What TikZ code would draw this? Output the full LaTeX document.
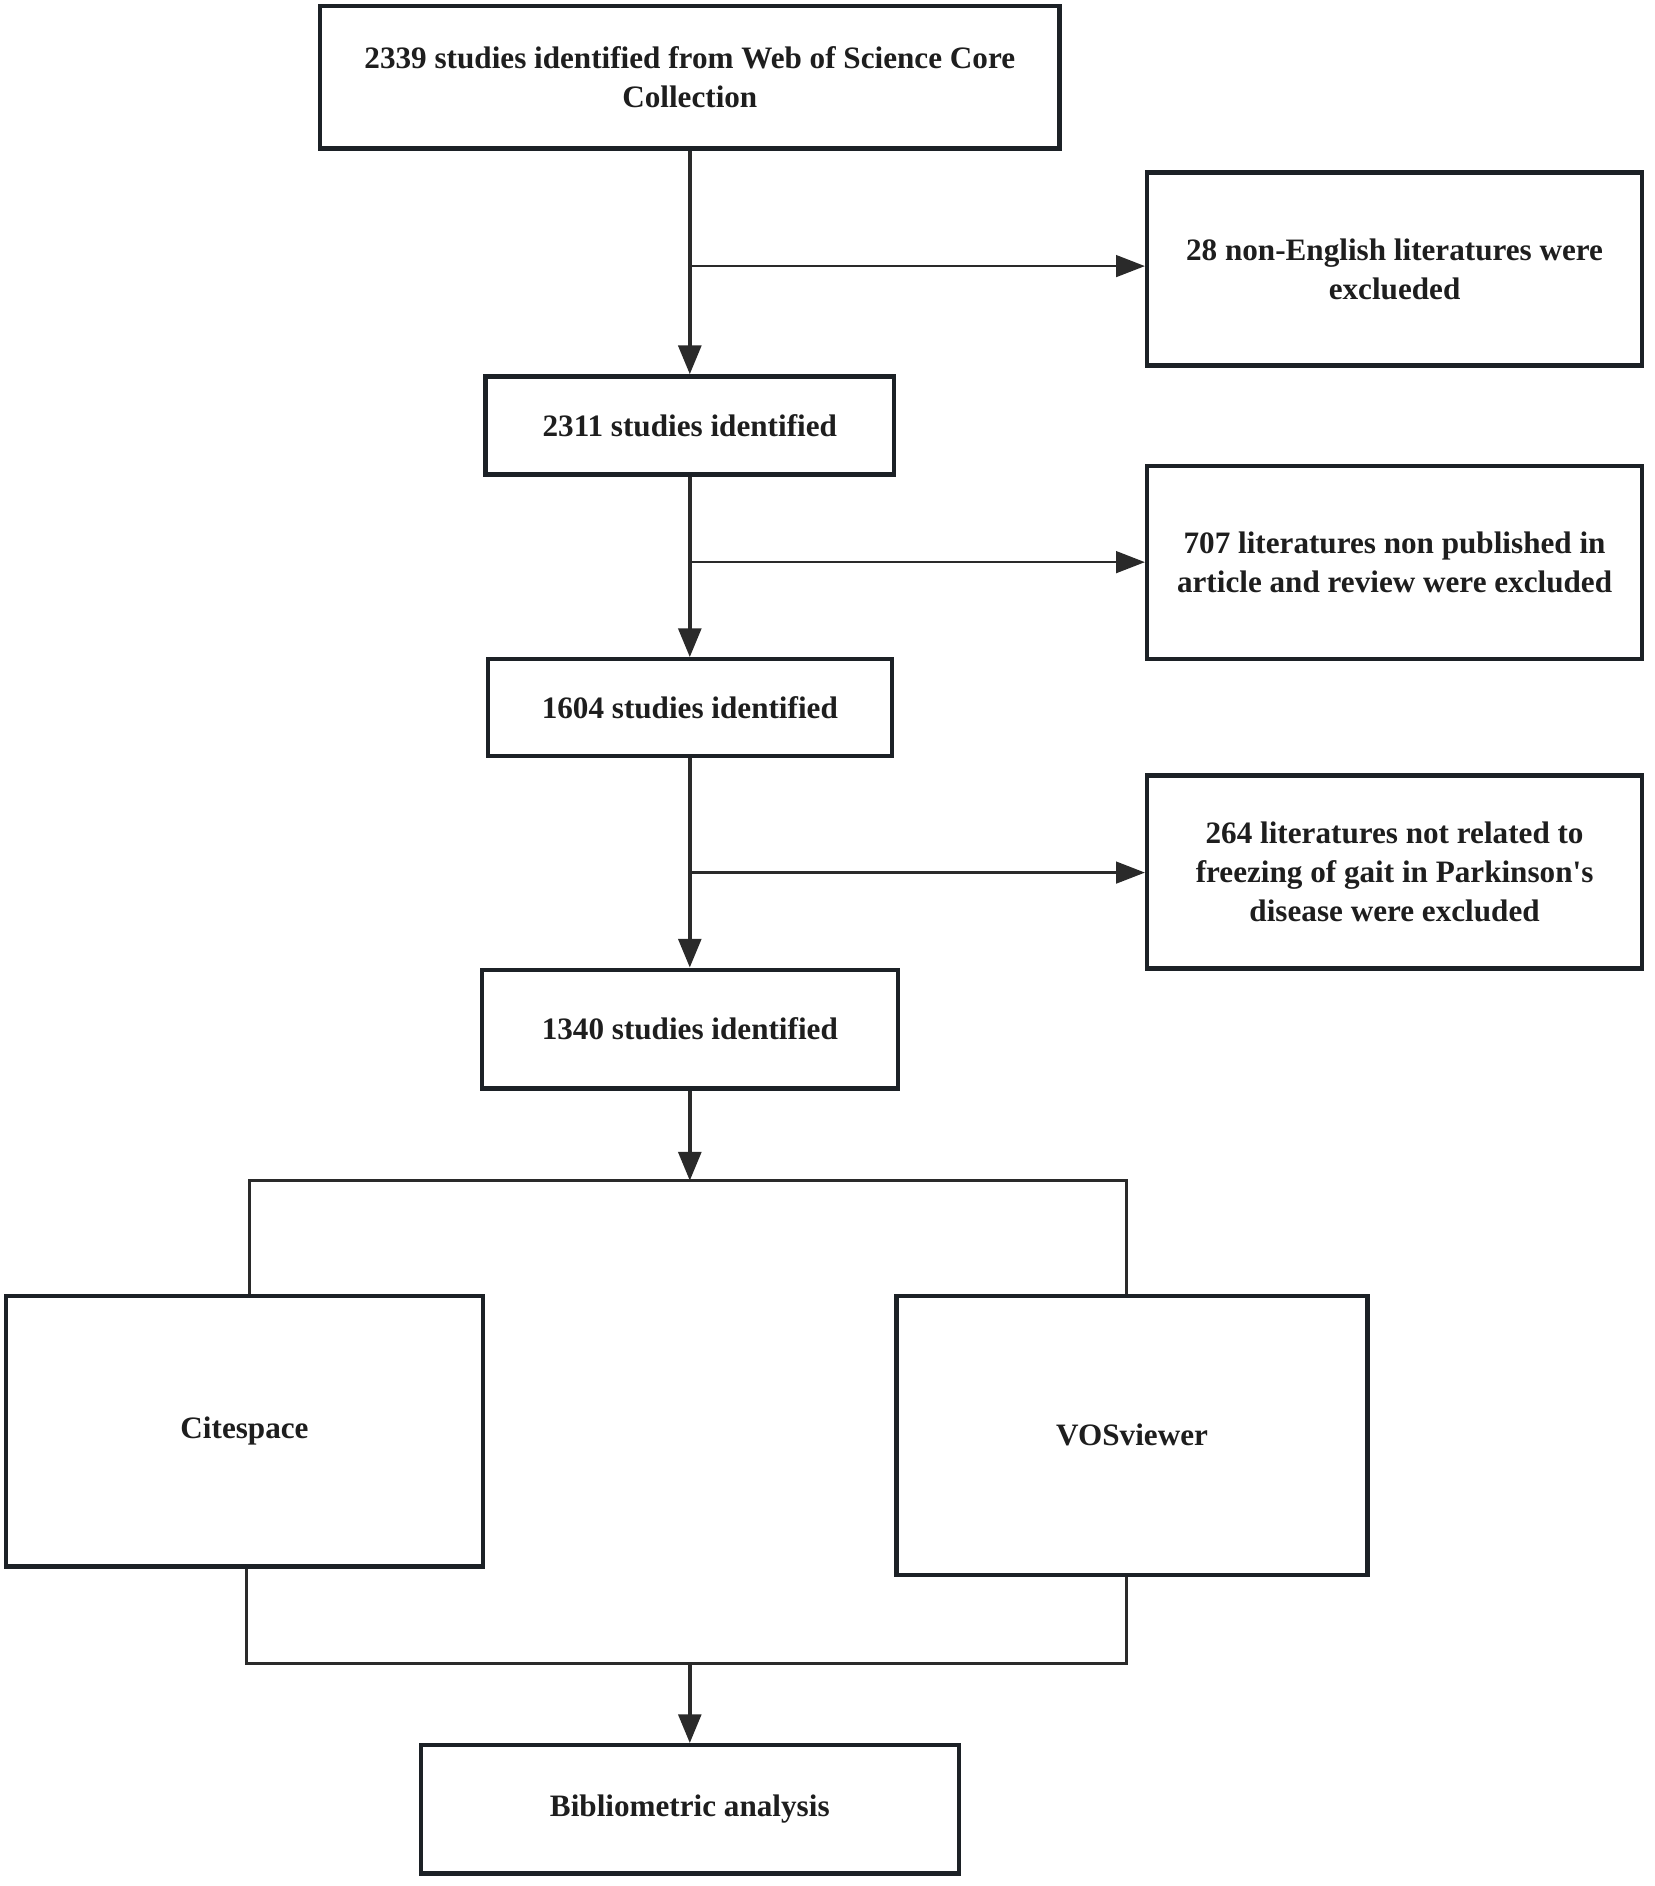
\documentclass[tikz,border=0pt]{standalone}
\usepackage{fontspec}
\setmainfont{Liberation Serif}
\newfontfamily\rawserif{Liberation Serif}
\usetikzlibrary{arrows.meta}
\definecolor{boxline}{HTML}{1C2126}
\definecolor{conn}{HTML}{2A2A2A}
\definecolor{txt}{HTML}{1E1E1E}
\tikzset{
  stepbox/.style={draw=boxline, line width=3.6pt, fill=white, inner sep=0pt,
    align=center, text=txt, font=\bfseries\fontsize{26}{32.5}\selectfont},
  spine/.style={draw=conn, line width=3pt, -{Triangle[length=24pt,width=19pt]}},
  branch/.style={draw=conn, line width=2.2pt, -{Triangle[length=24pt,width=18pt]}},
  plainline/.style={draw=conn, line width=2.4pt},
}
\begin{document}
\begin{tikzpicture}[x=1pt,y=-1pt]
\useasboundingbox (0,0) rectangle (1380,1573.5);
\fill[white] (0,0) rectangle (1380,1573.5);

\node[stepbox, minimum width=617pt, minimum height=119pt] (b1) at (575.5,64.5)
  {2339 studies identified from Web of Science Core\\Collection};
\node[stepbox, minimum width=413pt, minimum height=161pt] (r1) at (1163.5,224.5)
  {28 non-English literatures were\\exclueded};
\node[stepbox, minimum width=341pt, minimum height=82pt] (b2) at (575.5,355)
  {2311 studies identified};
\node[stepbox, minimum width=413pt, minimum height=161pt] (r2) at (1163.5,469.5)
  {707 literatures non published in\\article and review were excluded};
\node[stepbox, minimum width=337pt, minimum height=81pt] (b3) at (575.5,590.5)
  {1604 studies identified};
\node[stepbox, minimum width=413pt, minimum height=161pt] (r3) at (1163.5,727.5)
  {264 literatures not related to\\freezing of gait in Parkinson{\rawserif\bfseries '}s\\disease were excluded};
\node[stepbox, minimum width=347pt, minimum height=99pt] (b4) at (575.5,858.5)
  {1340 studies identified};
\node[stepbox, minimum width=398pt, minimum height=226pt] (cs) at (204,1194)
  {Citespace};
\node[stepbox, minimum width=393pt, minimum height=233pt] (vos) at (944.5,1197.5)
  {VOSviewer};
\node[stepbox, minimum width=449pt, minimum height=107pt] (bib) at (575.5,1509.5)
  {Bibliometric analysis};

% spine
\draw[spine] (b1.south) -- (b2.north);
\draw[spine] (b2.south) -- (b3.north);
\draw[spine] (b3.south) -- (b4.north);

% branches
\coordinate (j1) at (575.5,222);
\coordinate (j2) at (575.5,469);
\coordinate (j3) at (575.5,728);
\draw[branch] (j1) -- (j1 -| r1.west);
\draw[branch] (j2) -- (j2 -| r2.west);
\draw[branch] (j3) -- (j3 -| r3.west);

% split
\coordinate (busM) at (575.5,985);
\coordinate (busL) at (208,985);
\coordinate (busR) at (940,985);
\draw[spine] (b4.south) -- (busM);
\draw[plainline] (cs.north -| busL) -- (busL) -- (busR) -- (vos.north -| busR);

% merge
\coordinate (botM) at (575.5,1388);
\coordinate (botL) at (206,1388);
\coordinate (botR) at (940,1388);
\draw[plainline] (cs.south -| botL) -- (botL) -- (botR) -- (vos.south -| botR);
\draw[spine] (botM) -- (bib.north);
\end{tikzpicture}
\end{document}
